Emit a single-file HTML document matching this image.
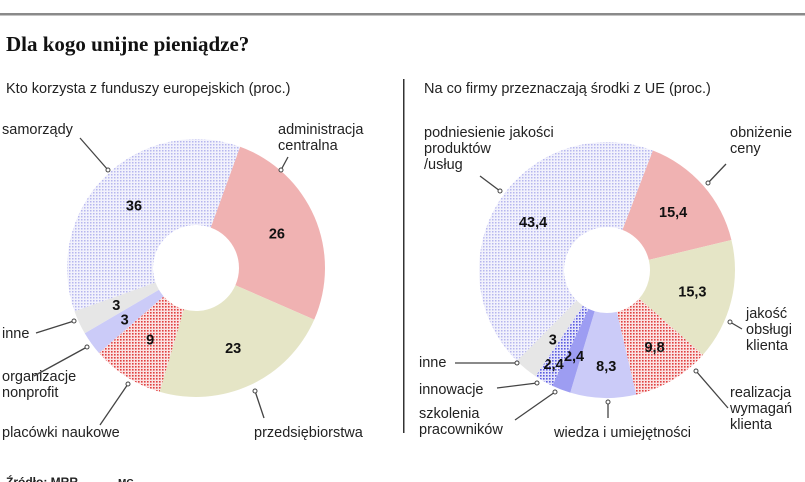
<!DOCTYPE html>
<html><head><meta charset="utf-8"><style>
body{margin:0;width:805px;height:482px;overflow:hidden;background:#fff;font-family:"Liberation Sans",sans-serif;}
svg{display:block}
.lbl{font-family:"Liberation Sans",sans-serif;font-size:14.5px;fill:#222}
.val{font-family:"Liberation Sans",sans-serif;font-size:14.5px;font-weight:bold;fill:#111}
</style></head><body>
<svg id="c" width="805" height="482">
<defs>
<pattern id="pBlue" width="3" height="3" patternUnits="userSpaceOnUse"><rect width="3" height="3" fill="#f2f2fc"/><rect width="1.5" height="1.5" fill="#b6b6ee"/></pattern>
<pattern id="pRed" width="3" height="3" patternUnits="userSpaceOnUse"><rect width="3" height="3" fill="#fbe3e3"/><rect width="1.6" height="1.6" fill="#e04040"/></pattern>
<pattern id="pBlue2" width="3" height="3" patternUnits="userSpaceOnUse"><rect width="3" height="3" fill="#e4e4fa"/><rect width="1.6" height="1.6" fill="#5a5ae0"/></pattern>
</defs>
<rect x="0" y="13" width="805" height="2.5" fill="#8a8a8a"/>
<text x="6" y="51" style="font-family:'Liberation Serif',serif;font-weight:bold;font-size:21px;fill:#111">Dla kogo unijne pieniądze?</text>
<text x="6" y="93" class="lbl">Kto korzysta z funduszy europejskich (proc.)</text>
<text x="424" y="93" class="lbl">Na co firmy przeznaczają środki z UE (proc.)</text>
<rect x="403" y="79" width="1.5" height="354" fill="#333"/>
<text x="6" y="486" style="font-size:12px;font-weight:bold;fill:#222">Źródło: MRR</text>
<text x="118" y="486" style="font-size:10px;font-weight:bold;fill:#222">MC</text>
<g id="left"></g>
<g id="right"></g>
</svg>
<script>
const leftCategories=["administracja centralna","przedsiębiorstwa","placówki naukowe","organizacje nonprofit","inne","samorządy"];
const leftValues=[26,23,9,3,3,36];
const leftLabels=["26","23","9","3","3","36"];
const leftFills=["#f0b2b2","#e5e5c6","url(#pRed)","#cbcbf8","#e6e6e6","url(#pBlue)"];
const rightCategories=["obniżenie ceny","jakość obsługi klienta","realizacja wymagań klienta","wiedza i umiejętności","szkolenia pracowników","innowacje","inne","podniesienie jakości produktów/usług"];
const rightValues=[15.4,15.3,9.8,8.3,2.4,2.4,3,43.4];
const rightLabels=["15,4","15,3","9,8","8,3","2,4","2,4","3","43,4"];
const rightFills=["#f0b2b2","#e5e5c6","url(#pRed)","#cbcbf8","#9d9df2","url(#pBlue2)","#e6e6e6","url(#pBlue)"];
const NS="http://www.w3.org/2000/svg";
function pt(cx,cy,r,a){return [cx+r*Math.sin(a),cy-r*Math.cos(a)];}
function donut(g,cx,cy,R,r,start,vals,fills,labels,names,labR,offs){
  const tot=vals.reduce((a,b)=>a+b,0);let a=start*Math.PI/180;
  vals.forEach((v,i)=>{
    const a2=a+v/tot*2*Math.PI;const lg=(a2-a)>Math.PI?1:0;
    const p1=pt(cx,cy,R,a),p2=pt(cx,cy,R,a2),p3=pt(cx,cy,r,a2),p4=pt(cx,cy,r,a);
    const p=document.createElementNS(NS,"path");
    p.setAttribute("d",`M${p1}A${R},${R} 0 ${lg} 1 ${p2}L${p3}A${r},${r} 0 ${lg} 0 ${p4}Z`);
    p.setAttribute("fill",fills[i]);
    
    
    g.appendChild(p);
    const m=(a+a2)/2;const o=offs[i]||[0,0];const q=pt(cx,cy,labR[i]||(R+r)/2,m);
    const t=document.createElementNS(NS,"text");
    t.setAttribute("x",q[0]+o[0]);t.setAttribute("y",q[1]+5+o[1]);t.setAttribute("text-anchor","middle");t.setAttribute("class","val");
    t.textContent=labels[i];
    
    
    g.appendChild(t);
    a=a2;
  });
}
donut(document.getElementById("left"),196,268,129,43,20,leftValues,leftFills,leftLabels,leftCategories,[88,88,85,88,88,88],[[0,0],[0,0],[0,0],[0,0],[0,0],[0,0]]);
donut(document.getElementById("right"),607,270,128,43,21,rightValues,rightFills,rightLabels,rightCategories,[88,88,85,90,92,108,95,88],[[0,0],[0,0],[4,4],[2,6],[0,0],[0,0],[6,-4],[0,0]]);
const callouts=[
 ["label-samorzady",[["samorządy",2,134]],[[80,138],[108,170]]],
 ["label-administracja",[["administracja",278,134],["centralna",278,150]],[[288,157],[281,170]]],
 ["label-inne-left",[["inne",2,338]],[[36,333],[74,321]]],
 ["label-organizacje",[["organizacje",2,381],["nonprofit",2,397]],[[34,376],[87,347]]],
 ["label-placowki",[["placówki naukowe",2,437]],[[100,425],[128,384]]],
 ["label-przedsiebiorstwa",[["przedsiębiorstwa",254,437]],[[264,418],[255,391]]],
 ["label-podniesienie",[["podniesienie jakości",424,137],["produktów",424,153],["/usług",424,169]],[[480,176],[500,191]]],
 ["label-obnizenie",[["obniżenie",730,137],["ceny",730,153]],[[726,164],[708,183]]],
 ["label-jakosc",[["jakość",746,318],["obsługi",746,334],["klienta",746,350]],[[742,329],[730,322]]],
 ["label-realizacja",[["realizacja",730,397],["wymagań",730,413],["klienta",730,429]],[[728,408],[696,371]]],
 ["label-wiedza",[["wiedza i umiejętności",554,437]],[[608,418],[608,402]]],
 ["label-szkolenia",[["szkolenia",419,418],["pracowników",419,434]],[[515,420],[555,392]]],
 ["label-innowacje",[["innowacje",419,394]],[[497,388],[537,383]]],
 ["label-inne-right",[["inne",419,367]],[[455,363],[517,363]]]
];
const svg=document.getElementById("c");
callouts.forEach(c=>{
  const g=document.createElementNS(NS,"g");
  
  
  c[1].forEach(l=>{const t=document.createElementNS(NS,"text");t.setAttribute("x",l[1]);t.setAttribute("y",l[2]);t.setAttribute("class","lbl");t.textContent=l[0];g.appendChild(t);});
  const ln=document.createElementNS(NS,"line");const [a,b]=c[2];
  ln.setAttribute("x1",a[0]);ln.setAttribute("y1",a[1]);ln.setAttribute("x2",b[0]);ln.setAttribute("y2",b[1]);ln.setAttribute("stroke","#444");ln.setAttribute("stroke-width","1.3");
  g.appendChild(ln);
  const d=document.createElementNS(NS,"circle");d.setAttribute("cx",b[0]);d.setAttribute("cy",b[1]);d.setAttribute("r","2");d.setAttribute("fill","#fff");d.setAttribute("stroke","#444");
  g.appendChild(d);
  svg.appendChild(g);
});
</script>
</body></html>
